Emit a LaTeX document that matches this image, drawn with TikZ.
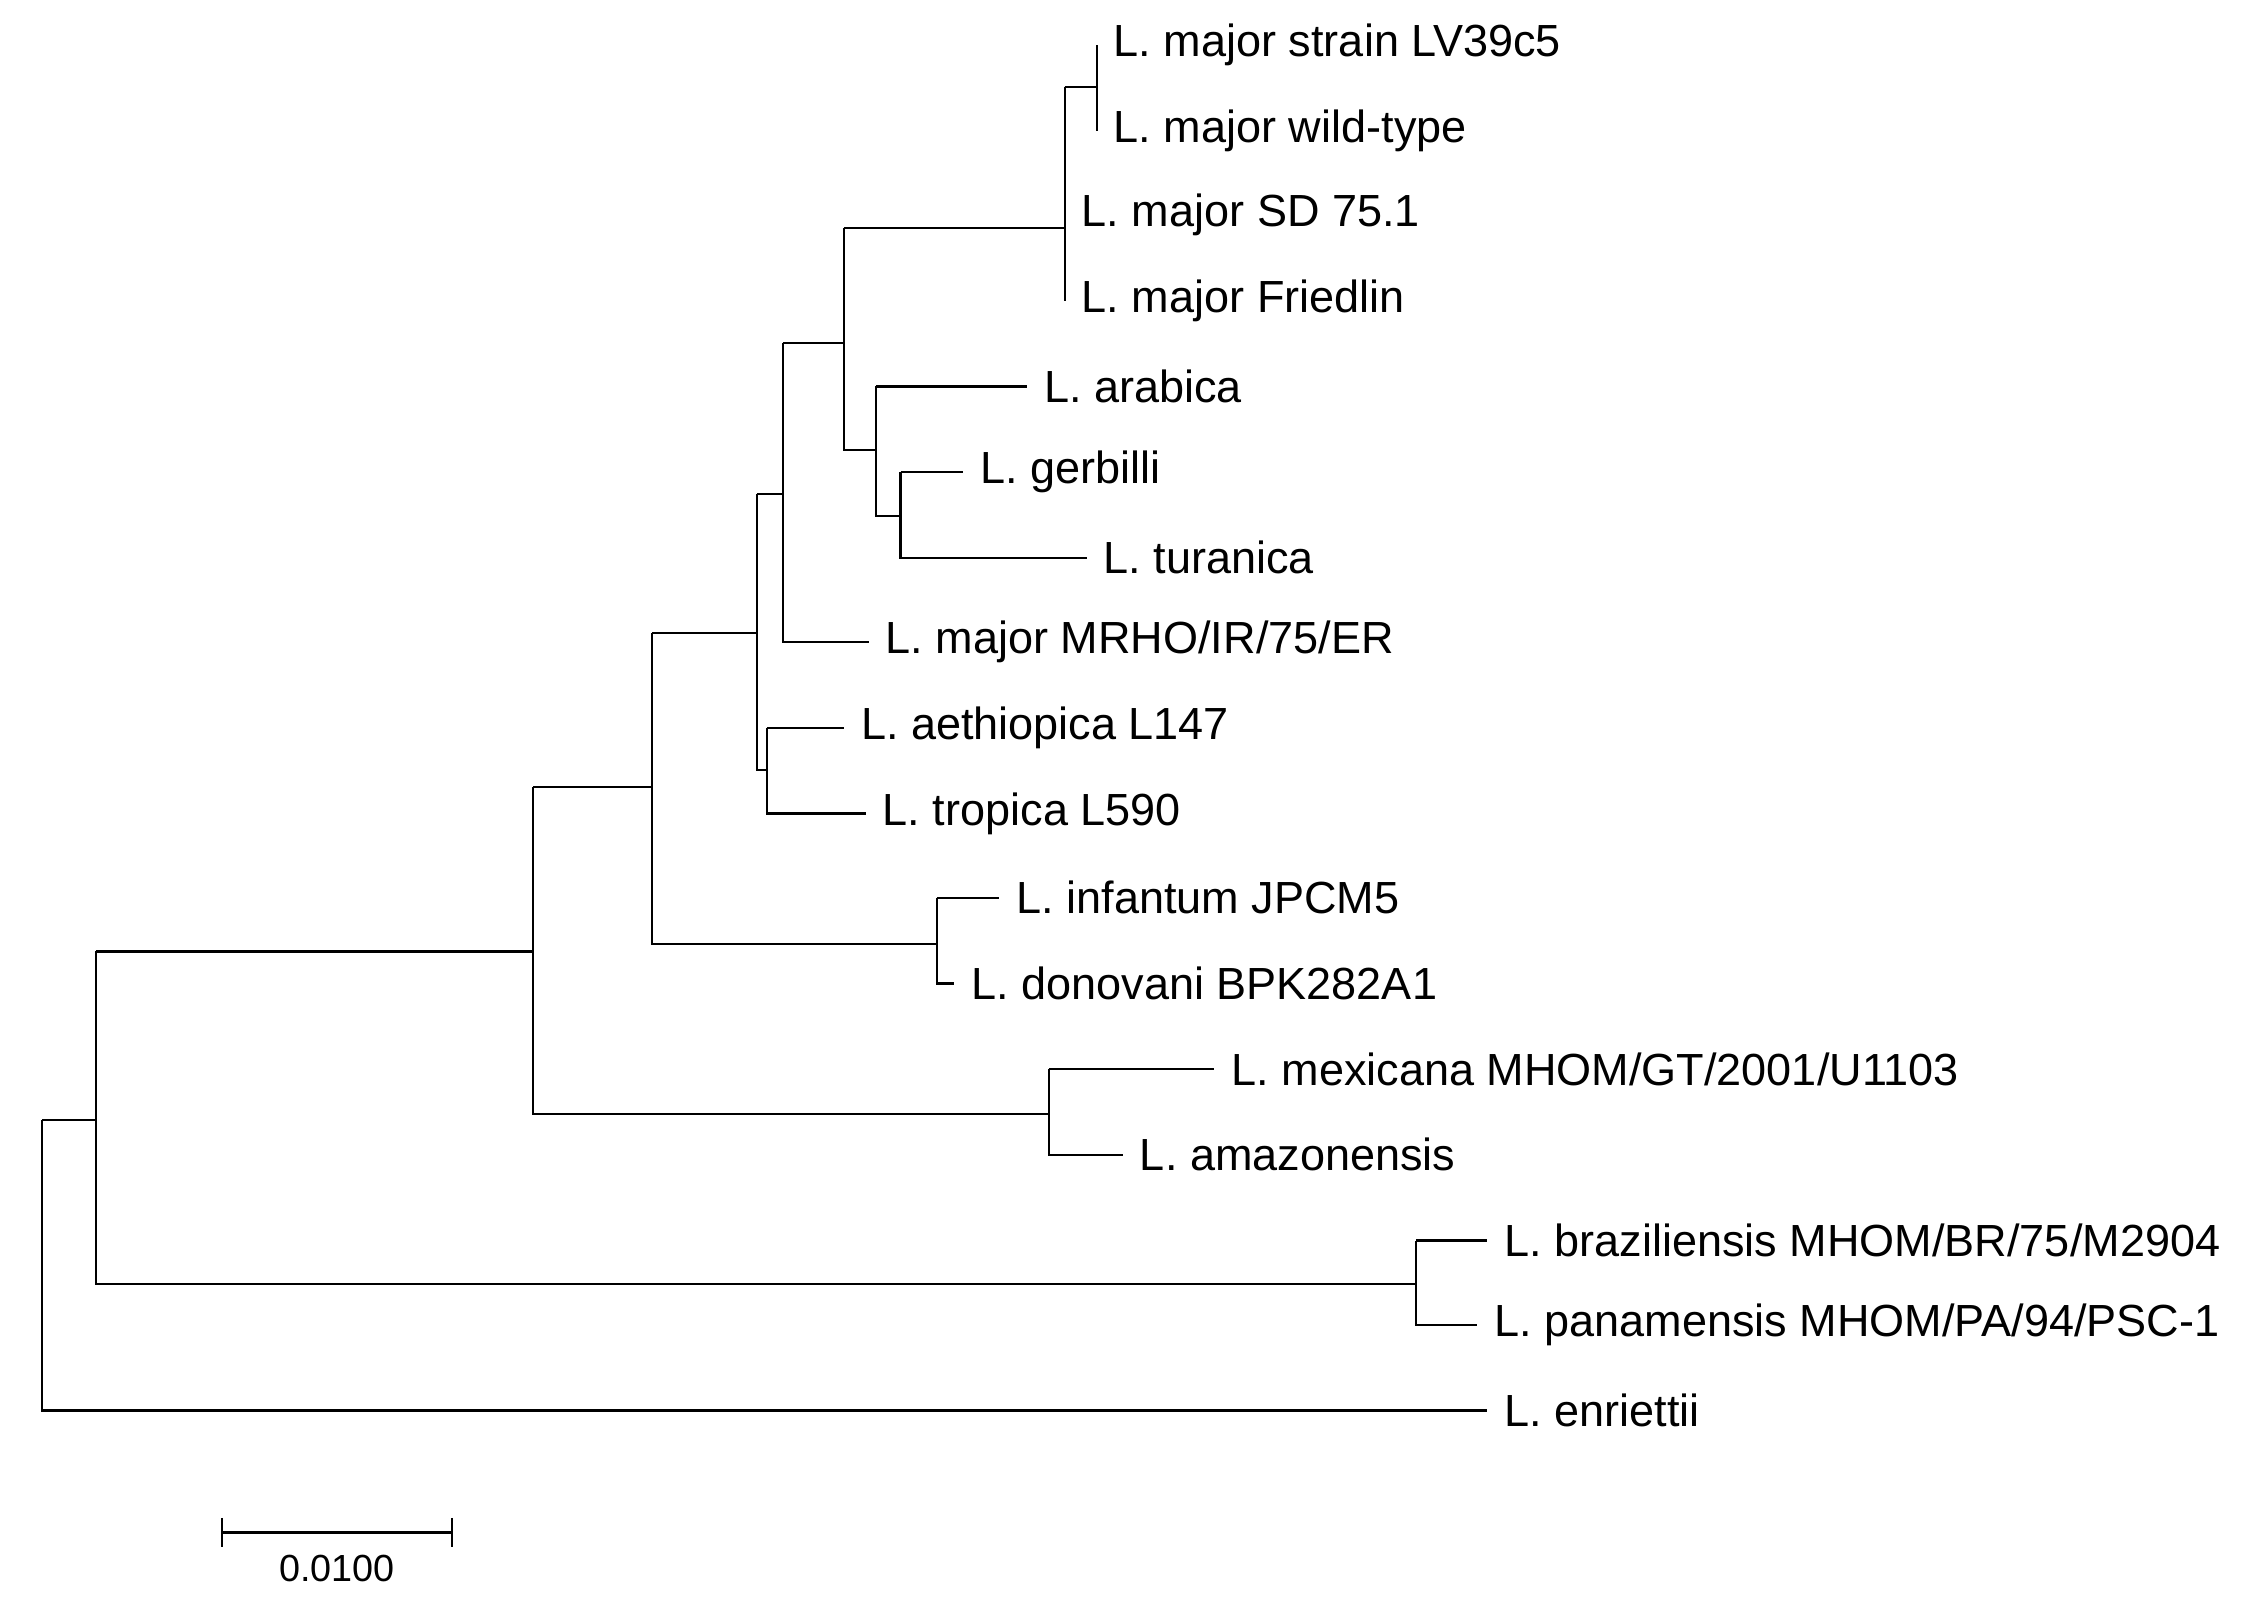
\documentclass[tikz,border=0pt]{standalone}
\usepackage{fontspec}
\setmainfont{Liberation Sans}
\begin{document}
\begin{tikzpicture}[x=1pt,y=-1pt,line width=1.6pt,
  lab/.style={anchor=west,inner sep=0pt,font=\fontsize{31}{31}\selectfont},
  br/.style={line width=1.6pt}]
\useasboundingbox (0,0) rectangle (1560,1104);
% leaves: name, x end, y, text
\foreach \n/\x/\y/\t in {
 a/755/31/{L. major strain LV39c5},
 b/755/90/{L. major wild-type},
 c/733/148/{L. major SD 75.1},
 d/733/207/{L. major Friedlin},
 e/707/266/{L. arabica},
 f/663/325/{L. gerbilli},
 g/748/384/{L. turanica},
 h/598/442/{L. major MRHO/IR/75/ER},
 i/581/501/{L. aethiopica L147},
 j/596/560/{L. tropica L590},
 k/688/618/{L. infantum JPCM5},
 l/657/677/{L. donovani BPK282A1},
 m/836/736/{L. mexicana MHOM/GT/2001/U1103},
 o/773/795/{L. amazonensis},
 p/1024/854/{L. braziliensis MHOM/BR/75/M2904},
 q/1017/912/{L. panamensis MHOM/PA/94/PSC-1},
 r/1024/971/{L. enriettii}}
{ \coordinate (\n) at (\x,\y); \node[lab] (t\n) at (\x+11,\y) {\t}; }
% internal nodes
\coordinate (nab) at (755,60);
\coordinate (nA) at (733,60);
\draw[br] (a) -- (b);
\draw[br] (nA) -- (nab);
\draw[br] (nA) -- (d);
\coordinate (nfg) at (620,355);
\draw[br] (f -| nfg) -- (f); \draw[br] (f -| nfg) -- (g -| nfg) -- (g);
\coordinate (n603) at (603,310);
\draw[br] (e -| n603) -- (e); \draw[br] (e -| n603) -- (603,355) -- (nfg);
\coordinate (n581) at (581,236);
\draw[br] (581,157) -- (733,157); \draw[br] (581,157) -- (581,310) -- (n603);
\coordinate (n539) at (539,340);
\draw[br] (539,236) -- (n581); \draw[br] (539,236) -- (h -| n539) -- (h);
\coordinate (n528) at (528,530);
\draw[br] (i -| n528) -- (i); \draw[br] (i -| n528) -- (j -| n528) -- (j);
\coordinate (n521) at (521,436);
\draw[br] (521,340) -- (n539); \draw[br] (521,340) -- (521,530) -- (n528);
\coordinate (n645) at (645,650);
\draw[br] (k -| n645) -- (k); \draw[br] (k -| n645) -- (l -| n645) -- (l);
\coordinate (n449) at (449,542);
\draw[br] (449,436) -- (n521); \draw[br] (449,436) -- (449,650) -- (n645);
\coordinate (n722) at (722,767);
\draw[br] (m -| n722) -- (m); \draw[br] (m -| n722) -- (o -| n722) -- (o);
\coordinate (n367) at (367,655);
\draw[br] (367,542) -- (n449); \draw[br] (367,542) -- (367,767) -- (n722);
\coordinate (n975) at (975,884);
\draw[br] (p -| n975) -- (p); \draw[br] (p -| n975) -- (q -| n975) -- (q);
\coordinate (n66) at (66,771);
\draw[br] (66,655) -- (n367); \draw[br] (66,655) -- (66,884) -- (n975);
\draw[br] (29,771) -- (n66); \draw[br] (29,771) -- (r -| 29,0) -- (r);
% scale bar
\coordinate (s1) at (153,1055); \coordinate (s2) at (311,1055);
\draw[br] (s1) -- (s2);
\draw[br] (153,1045) -- (153,1065); \draw[br] (311,1045) -- (311,1065);
\node[font=\fontsize{26}{26}\selectfont,inner sep=0pt] (sl) at (232,1080) {0.0100};
\end{tikzpicture}
\end{document}
